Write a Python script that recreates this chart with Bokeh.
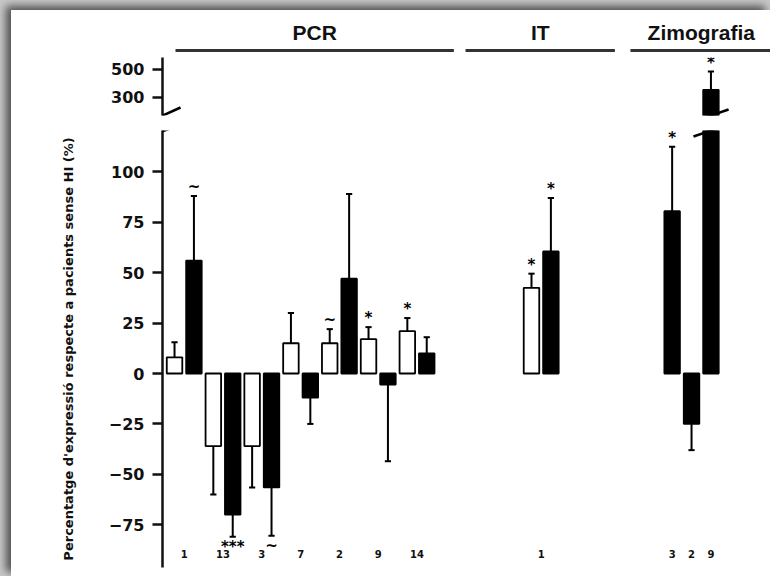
from bokeh.plotting import figure
from bokeh.models import Range1d, FixedTicker, ColumnDataSource, Arrow
from bokeh.layouts import column
from bokeh.core.properties import value
from bokeh.embed import file_html
from bokeh.resources import INLINE

# ---------------- data ----------------
# PCR studies: paired bars (open / filled), reference number under each pair
pcr_refs = ["1", "13", "3", "7", "2", "9", "14"]
pcr_open = [8, -36, -36, 15, 15, 17, 21]
pcr_open_err = [7.5, 24, 20.5, 15, 7, 6, 6.5]
pcr_open_sig = ["", "", "", "", "~", "*", "*"]
pcr_filled = [56, -70, -56.5, -12, 47, -5.5, 10]
pcr_filled_err = [32, 11, 24, 13, 42, 38, 8]
pcr_filled_sig = ["~", "***", "~", "", "", "", ""]

# Immunohistochemistry (IT)
it_refs = ["1"]
it_open = [42.5]
it_open_err = [7]
it_open_sig = ["*"]
it_filled = [60.5]
it_filled_err = [26.5]
it_filled_sig = ["*"]

# Zymography
zim_refs = ["3", "2", "9"]
zim_filled = [80.5, -25, 355]
zim_filled_err = [32, 13, 130]
zim_filled_sig = ["*", "", "*"]

groups = ["PCR", "IT", "Zimografia"]
lower_ticks = [-75, -50, -25, 0, 25, 50, 75, 100]
upper_ticks = [300, 500]
y_label = "Percentatge d'expressió respecte a pacients sense HI (%)"

# ---------------- layout constants ----------------
PCR_START, IT_START, ZIM_START = 0.0, 18.4, 25.65
X_RANGE = (-0.62, 30.72)
LOWER_RANGE = (-96.2, 120.5)
UPPER_RANGE = (171.4, 585.7)
BAR_W = 0.8
CAP_W = 0.32
FONT = "DejaVu Sans"

# ---------------- assemble bars ----------------
bars = dict(x=[], top=[], end=[], fill=[], sig=[])


def add_bar(x, v, e, fill, sig):
    bars["x"].append(x)
    bars["top"].append(v)
    bars["end"].append(v + e if v >= 0 else v - e)
    bars["fill"].append(fill)
    bars["sig"].append(sig)


ref_x, ref_txt = [], []
for i, ref in enumerate(pcr_refs):
    x0 = PCR_START + 2 * i
    add_bar(x0, pcr_open[i], pcr_open_err[i], "white", pcr_open_sig[i])
    add_bar(x0 + 1, pcr_filled[i], pcr_filled_err[i], "black", pcr_filled_sig[i])
    ref_x.append(x0 + 0.5)
    ref_txt.append(ref)
for i, ref in enumerate(it_refs):
    x0 = IT_START + 2 * i
    add_bar(x0, it_open[i], it_open_err[i], "white", it_open_sig[i])
    add_bar(x0 + 1, it_filled[i], it_filled_err[i], "black", it_filled_sig[i])
    ref_x.append(x0 + 0.5)
    ref_txt.append(ref)
for i, ref in enumerate(zim_refs):
    x0 = ZIM_START + i
    add_bar(x0, zim_filled[i], zim_filled_err[i], "black", zim_filled_sig[i])
    ref_x.append(x0)
    ref_txt.append(ref)

n_bars = len(bars["x"])
x_range = Range1d(*X_RANGE)


def panel_sources(lo, hi):
    """Sources holding only the marks that reach into the [lo, hi] band."""
    keep = [i for i in range(n_bars)
            if max(bars["top"][i], bars["end"][i], 0) >= lo
            and min(bars["top"][i], bars["end"][i], 0) <= hi]
    bar_src = ColumnDataSource({k: [bars[k][i] for i in keep] for k in bars})
    cap_keep = [i for i in keep if lo <= bars["end"][i] <= hi]
    cap_src = ColumnDataSource(dict(
        x0=[bars["x"][i] - CAP_W / 2 for i in cap_keep],
        x1=[bars["x"][i] + CAP_W / 2 for i in cap_keep],
        y=[bars["end"][i] for i in cap_keep],
    ))
    sig_keep = [i for i in cap_keep if bars["sig"][i]]
    up = [i for i in sig_keep if bars["top"][i] >= 0]
    dn = [i for i in sig_keep if bars["top"][i] < 0]
    mk = lambda idx: ColumnDataSource(dict(x=[bars["x"][i] for i in idx],
                                           y=[bars["end"][i] for i in idx],
                                           t=[bars["sig"][i] for i in idx]))
    return bar_src, cap_src, mk(up), mk(dn)


def base_fig(height, y_range, top, bottom, y_axis=True):
    p = figure(width=759, height=height, x_range=x_range, y_range=y_range,
               x_axis_location=None, y_axis_location="left" if y_axis else None,
               toolbar_location=None, output_backend="svg",
               min_border_left=151, min_border_right=0,
               min_border_top=top, min_border_bottom=bottom)
    p.grid.visible = False
    p.outline_line_color = None
    p.background_fill_color = "white"
    p.border_fill_color = "white"
    return p


def style_axis(p, ticks):
    ax = p.yaxis[0]
    ax.ticker = FixedTicker(ticks=ticks)
    ax.axis_line_width = 2.5
    ax.axis_line_color = "#111111"
    ax.major_tick_line_width = 2.5
    ax.major_tick_line_color = "#111111"
    ax.major_tick_out = 10
    ax.major_tick_in = 0
    ax.minor_tick_out = 0
    ax.minor_tick_in = 0
    ax.major_label_text_font = FONT
    ax.major_label_text_font_style = "bold"
    ax.major_label_text_font_size = "16px"
    ax.major_label_text_color = "#111111"
    ax.major_label_standoff = 8


def draw_bars(p, lo, hi):
    bar_src, cap_src, sig_up, sig_dn = panel_sources(lo, hi)
    p.vbar(x="x", top="top", bottom=0, width=BAR_W, source=bar_src,
           fill_color="fill", line_color="black", line_width=1.8)
    p.segment(x0="x", y0="top", x1="x", y1="end", source=bar_src,
              line_color="black", line_width=2)
    p.segment(x0="x0", y0="y", x1="x1", y1="y", source=cap_src,
              line_color="black", line_width=2)
    for src, off in ((sig_up, -9), (sig_dn, 10)):
        p.text(x="x", y="y", text="t", source=src, y_offset=off,
               text_align="center", text_baseline="middle",
               text_font=value(FONT), text_font_style="bold",
               text_font_size="15px", text_color="black")


def slash(p, x0, y0, x1, y1):
    p.add_layout(Arrow(end=None, x_start=x0, y_start=y0, x_end=x1, y_end=y1,
                       line_color="black", line_width=2.5))


# ---- group headers ----
header = base_fig(42, Range1d(0, 42), 0, 0, y_axis=False)
header_spans = [(0.05, 14.4), (15.0, 22.7), (23.5, 30.8)]
header.segment(x0=[s[0] for s in header_spans], y0=2,
               x1=[s[1] for s in header_spans], y1=2,
               line_color="#333333", line_width=3)
header.text(x=[(a + b) / 2 for a, b in header_spans], y=[20] * 3, text=groups,
            text_align="center", text_baseline="middle",
            text_font=value("Liberation Sans"), text_font_style="bold",
            text_font_size="21px", text_color="#111111")

# ---- upper segment of the broken axis ----
upper = base_fig(71, Range1d(*UPPER_RANGE), 5, 8)
style_axis(upper, upper_ticks)
draw_bars(upper, *UPPER_RANGE)
slash(upper, -1.39, 121.4, 0.31, 228.6)
slash(upper, 26.6, 121.4, 28.56, 214.3)

# ---- lower segment ----
lower = base_fig(453, Range1d(*LOWER_RANGE), 7, 9)
style_axis(lower, lower_ticks)
lower.yaxis.axis_label = y_label
lower.yaxis.axis_label_text_font = FONT
lower.yaxis.axis_label_text_font_style = "bold"
lower.yaxis.axis_label_text_font_size = "13px"
lower.yaxis.axis_label_text_color = "#111111"
lower.yaxis.axis_label_standoff = 30
draw_bars(lower, *LOWER_RANGE)
lower.text(x=ref_x, y=[-89.3] * len(ref_x), text=ref_txt,
           text_align="center", text_baseline="middle",
           text_font=value(FONT), text_font_style="bold",
           text_font_size="10px", text_color="#111111")
slash(lower, -1.34, 117.5, 0.41, 123.8)
slash(lower, 26.75, 117.5, 28.66, 123.8)

card = column(header, upper, lower, spacing=0, width=759, height=566,
              margin=(10, 0, 0, 11),
              styles={"box-shadow": "-5px -4px 8px rgba(0,0,0,0.6)",
                      "background-color": "white"})
page = column(card, width=770, height=576,
              styles={"background-color": "#c8c8c8"})

open("out.html", "w").write(file_html(page, INLINE))
